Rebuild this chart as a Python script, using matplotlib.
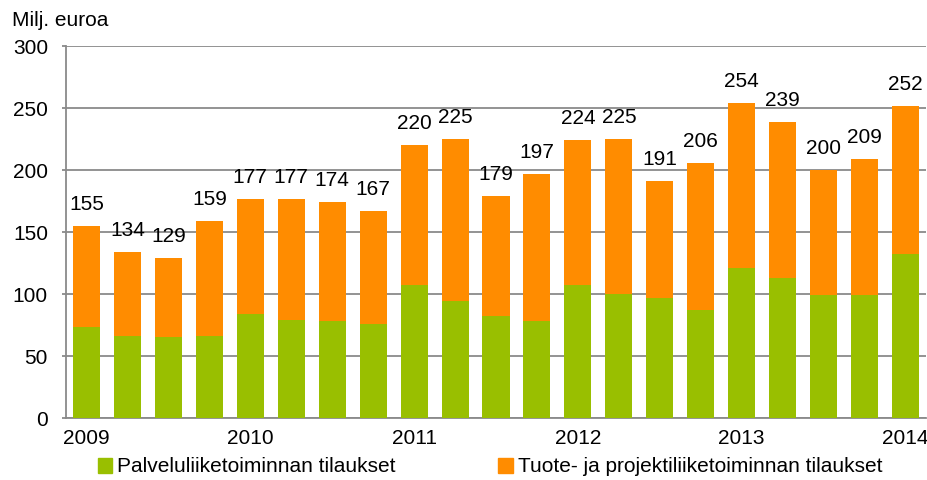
import matplotlib
matplotlib.use("Agg")
import matplotlib.pyplot as plt
import numpy as np
from matplotlib.patches import Patch

plt.rcParams['font.family'] = ['Liberation Sans', 'DejaVu Sans']

totals = [155, 134, 129, 159, 177, 177, 174, 167, 220, 225, 179, 197,
          224, 225, 191, 206, 254, 239, 200, 209, 252]
service = [73, 66, 65, 66, 84, 79, 78, 76, 107, 94, 82, 78,
           107, 100, 97, 87, 121, 113, 99, 99, 132]
product = [t - s for t, s in zip(totals, service)]
year_labels = ['2009', '2010', '2011', '2012', '2013', '2014']
year_positions = [0, 4, 8, 12, 16, 20]
series_names = ['Palveluliiketoiminnan tilaukset',
                'Tuote- ja projektiliiketoiminnan tilaukset']

green = '#99BF00'
orange = '#FF8C00'
fs = 15

fig = plt.figure(figsize=(9.27, 4.8), dpi=100)
ax = fig.add_axes([66/927, 62/480, 860/927, 372/480])

x = np.arange(len(totals))
w = 0.66
ax.bar(x, service, w, color=green, zorder=3)
ax.bar(x, product, w, bottom=service, color=orange, zorder=3)

for xi, t in zip(x, totals):
    ax.annotate(str(t), (xi, t), xytext=(0, 11.5), textcoords='offset points',
                ha='center', va='baseline', fontsize=fs, color='black')

ax.set_xlim(-0.5, len(totals) - 0.5)
ax.set_ylim(0, 300)
ax.set_yticks(range(0, 301, 50))
ax.yaxis.grid(True, color='#8A8A8A', linewidth=1.3, zorder=0)
ax.set_axisbelow(True)
ax.set_xticks(year_positions)
ax.set_xticklabels(year_labels)
ax.tick_params(axis='x', length=0, pad=8, labelsize=fs)
ax.tick_params(axis='y', length=3, width=1.3, color='#8A8A8A', pad=10, labelsize=fs)
for s in ['top', 'right']:
    ax.spines[s].set_visible(False)
for s in ['left', 'bottom']:
    ax.spines[s].set_color('#8A8A8A')
    ax.spines[s].set_linewidth(1.3)

fig.text(12/927, 1 - 20/480, 'Milj. euroa', fontsize=fs, va='center', ha='left')

handles = [Patch(color=green), Patch(color=orange)]
fig.legend(handles, series_names, loc='center', bbox_to_anchor=(490/927, 1 - 467/480),
           ncol=2, frameon=False, fontsize=fs, handlelength=0.7, handleheight=0.7,
           handletextpad=0.25, columnspacing=4.9, borderaxespad=0, borderpad=0)

fig.savefig('out.png', dpi=100)
